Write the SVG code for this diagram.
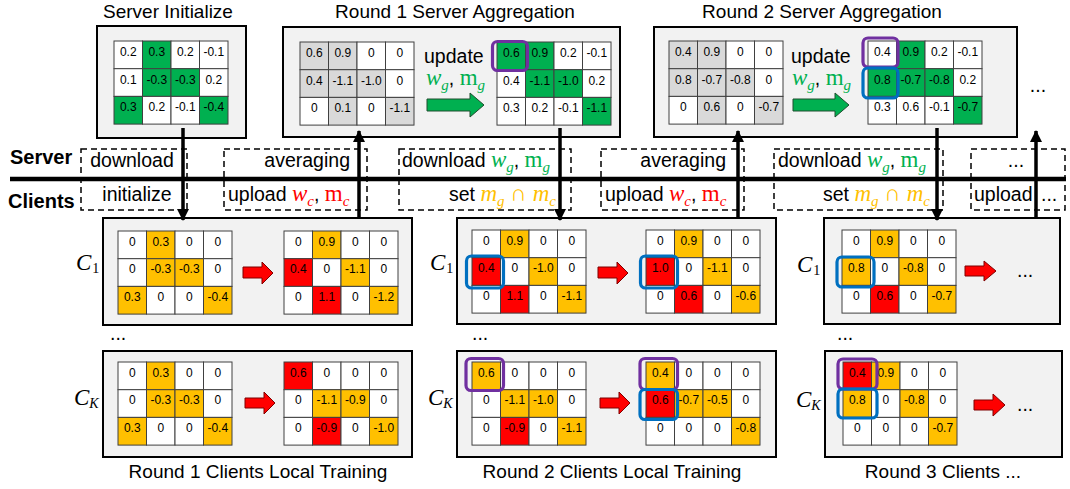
<svg xmlns="http://www.w3.org/2000/svg" width="1070" height="489" viewBox="0 0 1070 489">
<style>
.panel{fill:#F2F2F2;stroke:#000;stroke-width:2}
.c{stroke:#404040;stroke-width:1}
.W{fill:#fff}.G{fill:#00B050}.Gy{fill:#D9D9D9}.Y{fill:#FFC000}.R{fill:#FF0000}
.n{font-family:"Liberation Sans",Arial,sans-serif;font-size:12px;text-anchor:middle;fill:#000}
.t{font-family:"Liberation Sans",Arial,sans-serif;font-size:19px;fill:#000}
.b{font-family:"Liberation Sans",Arial,sans-serif;font-size:19.5px;fill:#000}
.lab{font-family:"Liberation Sans",Arial,sans-serif;font-size:20px;font-weight:bold;fill:#000}
.mi{font-family:"Liberation Serif","DejaVu Serif",serif;font-style:italic;font-size:23px}
.mr{font-family:"Liberation Serif","DejaVu Serif",serif;font-size:23px}
.sb{font-family:"Liberation Serif","DejaVu Serif",serif;font-style:italic;font-size:15px}
.su{font-family:"Liberation Serif","DejaVu Serif",serif;font-size:14px}
.sk{font-family:"Liberation Serif","DejaVu Serif",serif;font-style:italic;font-size:14px}
.cm{font-family:"Liberation Sans",Arial,sans-serif;font-size:19.5px;font-style:normal}
.green{fill:#00B050}.red{fill:#FF0000}.org{fill:#FFC000}
.dash{fill:none;stroke:#000;stroke-width:1.5;stroke-dasharray:6,4}
.conn{stroke:#000;stroke-width:3.5;fill:none}
.pur{fill:none;stroke:#7030A0;stroke-width:3.2}
.blu{fill:none;stroke:#0070C0;stroke-width:3.2}
.ga{fill:#00B050;stroke:#1F4E2E;stroke-width:1}
.ra{fill:#FF0000;stroke:#7F0000;stroke-width:1}
.mid{text-anchor:middle}.end{text-anchor:end}
</style>
<defs>
<marker id="ah" markerUnits="userSpaceOnUse" markerWidth="12" markerHeight="12" refX="11" refY="6" orient="auto">
<path d="M0,0 L12,6 L0,12 Z" fill="#000"/>
</marker>
</defs>

<!-- Titles -->
<text class="t mid" x="168" y="18">Server Initialize</text>
<text class="t mid" x="455" y="18">Round 1 Server Aggregation</text>
<text class="t mid" x="822" y="18">Round 2 Server Aggregation</text>
<text class="t mid" x="258" y="478">Round 1 Clients Local Training</text>
<text class="t mid" x="612" y="478">Round 2 Clients Local Training</text>
<text class="t mid" x="943" y="478">Round 3 Clients ...</text>

<!-- Server init -->
<g id="server-init">
<rect class="panel" x="97" y="26" width="149" height="112"/>
<g transform="translate(114,41)">
<rect class="c W" x="0" y="0" width="28.5" height="27.7"/><rect class="c G" x="28.5" y="0" width="28.5" height="27.7"/><rect class="c W" x="57" y="0" width="28.5" height="27.7"/><rect class="c W" x="85.5" y="0" width="28.5" height="27.7"/>
<rect class="c W" x="0" y="27.7" width="28.5" height="27.7"/><rect class="c G" x="28.5" y="27.7" width="28.5" height="27.7"/><rect class="c G" x="57" y="27.7" width="28.5" height="27.7"/><rect class="c W" x="85.5" y="27.7" width="28.5" height="27.7"/>
<rect class="c G" x="0" y="55.4" width="28.5" height="27.7"/><rect class="c W" x="28.5" y="55.4" width="28.5" height="27.7"/><rect class="c W" x="57" y="55.4" width="28.5" height="27.7"/><rect class="c G" x="85.5" y="55.4" width="28.5" height="27.7"/>
<text class="n" x="14.25" y="15">0.2</text><text class="n" x="42.75" y="15">0.3</text><text class="n" x="71.25" y="15">0.2</text><text class="n" x="99.75" y="15">-0.1</text>
<text class="n" x="14.25" y="42.7">0.1</text><text class="n" x="42.75" y="42.7">-0.3</text><text class="n" x="71.25" y="42.7">-0.3</text><text class="n" x="99.75" y="42.7">0.2</text>
<text class="n" x="14.25" y="70.4">0.3</text><text class="n" x="42.75" y="70.4">0.2</text><text class="n" x="71.25" y="70.4">-0.1</text><text class="n" x="99.75" y="70.4">-0.4</text>
</g>
</g>

<!-- Round 1 server aggregation -->
<g id="r1-server">
<rect class="panel" x="283" y="27" width="337" height="110"/>
<g transform="translate(300,42)">
<rect class="c Gy" x="0" y="0" width="28.5" height="27.7"/><rect class="c Gy" x="28.5" y="0" width="28.5" height="27.7"/><rect class="c W" x="57" y="0" width="28.5" height="27.7"/><rect class="c W" x="85.5" y="0" width="28.5" height="27.7"/>
<rect class="c Gy" x="0" y="27.7" width="28.5" height="27.7"/><rect class="c Gy" x="28.5" y="27.7" width="28.5" height="27.7"/><rect class="c Gy" x="57" y="27.7" width="28.5" height="27.7"/><rect class="c W" x="85.5" y="27.7" width="28.5" height="27.7"/>
<rect class="c W" x="0" y="55.4" width="28.5" height="27.7"/><rect class="c Gy" x="28.5" y="55.4" width="28.5" height="27.7"/><rect class="c W" x="57" y="55.4" width="28.5" height="27.7"/><rect class="c Gy" x="85.5" y="55.4" width="28.5" height="27.7"/>
<text class="n" x="14.25" y="15">0.6</text><text class="n" x="42.75" y="15">0.9</text><text class="n" x="71.25" y="15">0</text><text class="n" x="99.75" y="15">0</text>
<text class="n" x="14.25" y="42.7">0.4</text><text class="n" x="42.75" y="42.7">-1.1</text><text class="n" x="71.25" y="42.7">-1.0</text><text class="n" x="99.75" y="42.7">0</text>
<text class="n" x="14.25" y="70.4">0</text><text class="n" x="42.75" y="70.4">0.1</text><text class="n" x="71.25" y="70.4">0</text><text class="n" x="99.75" y="70.4">-1.1</text>
</g>
<text class="b" x="424" y="63" font-size="20">update</text>
<text x="426" y="85"><tspan class="mi green">w</tspan><tspan class="sb green" dy="5">g</tspan><tspan class="cm" dy="-5">, </tspan><tspan class="mr green">m</tspan><tspan class="sb green" dy="5">g</tspan></text>
<path class="ga" d="M427,99 H470 V93 L484,105 L470,117 V111 H427 Z"/>
<g transform="translate(497,42)">
<rect class="c G" x="0" y="0" width="28.5" height="27.7"/><rect class="c G" x="28.5" y="0" width="28.5" height="27.7"/><rect class="c W" x="57" y="0" width="28.5" height="27.7"/><rect class="c W" x="85.5" y="0" width="28.5" height="27.7"/>
<rect class="c W" x="0" y="27.7" width="28.5" height="27.7"/><rect class="c G" x="28.5" y="27.7" width="28.5" height="27.7"/><rect class="c G" x="57" y="27.7" width="28.5" height="27.7"/><rect class="c W" x="85.5" y="27.7" width="28.5" height="27.7"/>
<rect class="c W" x="0" y="55.4" width="28.5" height="27.7"/><rect class="c W" x="28.5" y="55.4" width="28.5" height="27.7"/><rect class="c W" x="57" y="55.4" width="28.5" height="27.7"/><rect class="c G" x="85.5" y="55.4" width="28.5" height="27.7"/>
<text class="n" x="14.25" y="15">0.6</text><text class="n" x="42.75" y="15">0.9</text><text class="n" x="71.25" y="15">0.2</text><text class="n" x="99.75" y="15">-0.1</text>
<text class="n" x="14.25" y="42.7">0.4</text><text class="n" x="42.75" y="42.7">-1.1</text><text class="n" x="71.25" y="42.7">-1.0</text><text class="n" x="99.75" y="42.7">0.2</text>
<text class="n" x="14.25" y="70.4">0.3</text><text class="n" x="42.75" y="70.4">0.2</text><text class="n" x="71.25" y="70.4">-0.1</text><text class="n" x="99.75" y="70.4">-1.1</text>
<rect class="pur" x="-4.5" y="-0.5" width="35" height="29" rx="5"/>
</g>
</g>

<!-- Round 2 server aggregation -->
<g id="r2-server">
<rect class="panel" x="654" y="27" width="363" height="110"/>
<g transform="translate(669,41)">
<rect class="c Gy" x="0" y="0" width="28.5" height="27.7"/><rect class="c Gy" x="28.5" y="0" width="28.5" height="27.7"/><rect class="c W" x="57" y="0" width="28.5" height="27.7"/><rect class="c W" x="85.5" y="0" width="28.5" height="27.7"/>
<rect class="c Gy" x="0" y="27.7" width="28.5" height="27.7"/><rect class="c Gy" x="28.5" y="27.7" width="28.5" height="27.7"/><rect class="c Gy" x="57" y="27.7" width="28.5" height="27.7"/><rect class="c W" x="85.5" y="27.7" width="28.5" height="27.7"/>
<rect class="c W" x="0" y="55.4" width="28.5" height="27.7"/><rect class="c Gy" x="28.5" y="55.4" width="28.5" height="27.7"/><rect class="c W" x="57" y="55.4" width="28.5" height="27.7"/><rect class="c Gy" x="85.5" y="55.4" width="28.5" height="27.7"/>
<text class="n" x="14.25" y="15">0.4</text><text class="n" x="42.75" y="15">0.9</text><text class="n" x="71.25" y="15">0</text><text class="n" x="99.75" y="15">0</text>
<text class="n" x="14.25" y="42.7">0.8</text><text class="n" x="42.75" y="42.7">-0.7</text><text class="n" x="71.25" y="42.7">-0.8</text><text class="n" x="99.75" y="42.7">0</text>
<text class="n" x="14.25" y="70.4">0</text><text class="n" x="42.75" y="70.4">0.6</text><text class="n" x="71.25" y="70.4">0</text><text class="n" x="99.75" y="70.4">-0.7</text>
</g>
<text class="b" x="791" y="63" font-size="20">update</text>
<text x="792" y="85"><tspan class="mi green">w</tspan><tspan class="sb green" dy="5">g</tspan><tspan class="cm" dy="-5">, </tspan><tspan class="mr green">m</tspan><tspan class="sb green" dy="5">g</tspan></text>
<path class="ga" d="M793,99 H835 V93 L849,105 L835,117 V111 H793 Z"/>
<g transform="translate(868,41)">
<rect class="c W" x="0" y="0" width="28.5" height="27.7"/><rect class="c G" x="28.5" y="0" width="28.5" height="27.7"/><rect class="c W" x="57" y="0" width="28.5" height="27.7"/><rect class="c W" x="85.5" y="0" width="28.5" height="27.7"/>
<rect class="c G" x="0" y="27.7" width="28.5" height="27.7"/><rect class="c G" x="28.5" y="27.7" width="28.5" height="27.7"/><rect class="c G" x="57" y="27.7" width="28.5" height="27.7"/><rect class="c W" x="85.5" y="27.7" width="28.5" height="27.7"/>
<rect class="c W" x="0" y="55.4" width="28.5" height="27.7"/><rect class="c W" x="28.5" y="55.4" width="28.5" height="27.7"/><rect class="c W" x="57" y="55.4" width="28.5" height="27.7"/><rect class="c G" x="85.5" y="55.4" width="28.5" height="27.7"/>
<text class="n" x="14.25" y="15">0.4</text><text class="n" x="42.75" y="15">0.9</text><text class="n" x="71.25" y="15">0.2</text><text class="n" x="99.75" y="15">-0.1</text>
<text class="n" x="14.25" y="42.7">0.8</text><text class="n" x="42.75" y="42.7">-0.7</text><text class="n" x="71.25" y="42.7">-0.8</text><text class="n" x="99.75" y="42.7">0.2</text>
<text class="n" x="14.25" y="70.4">0.3</text><text class="n" x="42.75" y="70.4">0.6</text><text class="n" x="71.25" y="70.4">-0.1</text><text class="n" x="99.75" y="70.4">-0.7</text>
<rect class="pur" x="-5" y="-3" width="35" height="29" rx="5"/>
<rect class="blu" x="-5" y="27" width="35" height="30" rx="5"/>
</g>
<text class="b" x="1038" y="92" text-anchor="middle">...</text>
</g>

<!-- Server / Clients bar -->
<g id="bar">
<text class="lab" x="10" y="164">Server</text>
<text class="lab" x="8" y="208">Clients</text>
<line x1="10" y1="179" x2="1066" y2="179" stroke="#000" stroke-width="4.5"/>
<rect class="dash" x="81" y="149" width="106" height="61"/>
<rect class="dash" x="224" y="149" width="143" height="61"/>
<rect class="dash" x="399" y="149" width="172" height="61"/>
<rect class="dash" x="601" y="149" width="143" height="61"/>
<rect class="dash" x="774" y="149" width="169" height="61"/>
<rect class="dash" x="971" y="149" width="94" height="61"/>
<text class="b mid" x="132" y="167">download</text>
<text class="b end" x="350" y="167">averaging</text>
<text class="b" x="402" y="167">download <tspan class="mi green">w</tspan><tspan class="sb green" dy="5">g</tspan><tspan class="cm" dy="-5">, </tspan><tspan class="mr green">m</tspan><tspan class="sb green" dy="5">g</tspan></text>
<text class="b end" x="726" y="167">averaging</text>
<text class="b" x="778" y="167">download <tspan class="mi green">w</tspan><tspan class="sb green" dy="5">g</tspan><tspan class="cm" dy="-5">, </tspan><tspan class="mr green">m</tspan><tspan class="sb green" dy="5">g</tspan></text>
<text class="b mid" x="1016" y="167">...</text>
<text class="b mid" x="137" y="201">initialize</text>
<text class="b" x="228" y="201">upload <tspan class="mi red">w</tspan><tspan class="sb red" dy="5">c</tspan><tspan class="cm" dy="-5">, </tspan><tspan class="mr red">m</tspan><tspan class="sb red" dy="5">c</tspan></text>
<text class="b end" x="556" y="201">set <tspan class="mi org">m</tspan><tspan class="sb org" dy="5">g</tspan><tspan class="mr org" dy="-5"> ∩ </tspan><tspan class="mi org">m</tspan><tspan class="sb org" dy="5">c</tspan></text>
<text class="b" x="605" y="201">upload <tspan class="mi red">w</tspan><tspan class="sb red" dy="5">c</tspan><tspan class="cm" dy="-5">, </tspan><tspan class="mr red">m</tspan><tspan class="sb red" dy="5">c</tspan></text>
<text class="b end" x="930" y="201">set <tspan class="mi org">m</tspan><tspan class="sb org" dy="5">g</tspan><tspan class="mr org" dy="-5"> ∩ </tspan><tspan class="mi org">m</tspan><tspan class="sb org" dy="5">c</tspan></text>
<text class="b" x="974" y="201">upload</text>
<text class="b" x="1041" y="201">...</text>
</g>

<!-- Client labels -->
<g id="client-labels">
<text x="76" y="270"><tspan class="mi" font-size="22">C</tspan><tspan class="su" dx="1" dy="3">1</tspan></text>
<text x="74" y="405"><tspan class="mi" font-size="22">C</tspan><tspan class="sk" dy="3">K</tspan></text>
<text x="430" y="270"><tspan class="mi" font-size="22">C</tspan><tspan class="su" dx="1" dy="3">1</tspan></text>
<text x="428" y="405"><tspan class="mi" font-size="22">C</tspan><tspan class="sk" dy="3">K</tspan></text>
<text x="797" y="272"><tspan class="mi" font-size="22">C</tspan><tspan class="su" dx="1" dy="3">1</tspan></text>
<text x="796" y="407"><tspan class="mi" font-size="22">C</tspan><tspan class="sk" dy="3">K</tspan></text>
<text class="b" x="110" y="340" font-size="16">...</text>
<text class="b" x="472" y="340" font-size="16">...</text>
<text class="b" x="837" y="340" font-size="16">...</text>
</g>

<!-- Round 1 C1 -->
<g id="r1-c1">
<rect class="panel" x="103" y="218" width="309" height="107"/>
<g transform="translate(118,231)">
<rect class="c W" x="0" y="0" width="28.5" height="27.7"/><rect class="c Y" x="28.5" y="0" width="28.5" height="27.7"/><rect class="c W" x="57" y="0" width="28.5" height="27.7"/><rect class="c W" x="85.5" y="0" width="28.5" height="27.7"/>
<rect class="c W" x="0" y="27.7" width="28.5" height="27.7"/><rect class="c Y" x="28.5" y="27.7" width="28.5" height="27.7"/><rect class="c Y" x="57" y="27.7" width="28.5" height="27.7"/><rect class="c W" x="85.5" y="27.7" width="28.5" height="27.7"/>
<rect class="c Y" x="0" y="55.4" width="28.5" height="27.7"/><rect class="c W" x="28.5" y="55.4" width="28.5" height="27.7"/><rect class="c W" x="57" y="55.4" width="28.5" height="27.7"/><rect class="c Y" x="85.5" y="55.4" width="28.5" height="27.7"/>
<text class="n" x="14.25" y="14.5">0</text><text class="n" x="42.75" y="14.5">0.3</text><text class="n" x="71.25" y="14.5">0</text><text class="n" x="99.75" y="14.5">0</text>
<text class="n" x="14.25" y="42.2">0</text><text class="n" x="42.75" y="42.2">-0.3</text><text class="n" x="71.25" y="42.2">-0.3</text><text class="n" x="99.75" y="42.2">0</text>
<text class="n" x="14.25" y="69.9">0.3</text><text class="n" x="42.75" y="69.9">0</text><text class="n" x="71.25" y="69.9">0</text><text class="n" x="99.75" y="69.9">-0.4</text>
</g>
<path class="ra" d="M243,267 H262 V262 L273,273 L262,284 V278 H243 Z"/>
<g transform="translate(284,231)">
<rect class="c W" x="0" y="0" width="28.5" height="27.7"/><rect class="c Y" x="28.5" y="0" width="28.5" height="27.7"/><rect class="c W" x="57" y="0" width="28.5" height="27.7"/><rect class="c W" x="85.5" y="0" width="28.5" height="27.7"/>
<rect class="c R" x="0" y="27.7" width="28.5" height="27.7"/><rect class="c W" x="28.5" y="27.7" width="28.5" height="27.7"/><rect class="c Y" x="57" y="27.7" width="28.5" height="27.7"/><rect class="c W" x="85.5" y="27.7" width="28.5" height="27.7"/>
<rect class="c W" x="0" y="55.4" width="28.5" height="27.7"/><rect class="c R" x="28.5" y="55.4" width="28.5" height="27.7"/><rect class="c W" x="57" y="55.4" width="28.5" height="27.7"/><rect class="c Y" x="85.5" y="55.4" width="28.5" height="27.7"/>
<text class="n" x="14.25" y="14.5">0</text><text class="n" x="42.75" y="14.5">0.9</text><text class="n" x="71.25" y="14.5">0</text><text class="n" x="99.75" y="14.5">0</text>
<text class="n" x="14.25" y="42.2">0.4</text><text class="n" x="42.75" y="42.2">0</text><text class="n" x="71.25" y="42.2">-1.1</text><text class="n" x="99.75" y="42.2">0</text>
<text class="n" x="14.25" y="69.9">0</text><text class="n" x="42.75" y="69.9">1.1</text><text class="n" x="71.25" y="69.9">0</text><text class="n" x="99.75" y="69.9">-1.2</text>
</g>
</g>

<!-- Round 1 CK -->
<g id="r1-ck">
<rect class="panel" x="103" y="351" width="309" height="106"/>
<g transform="translate(118,362)">
<rect class="c W" x="0" y="0" width="28.5" height="27.7"/><rect class="c Y" x="28.5" y="0" width="28.5" height="27.7"/><rect class="c W" x="57" y="0" width="28.5" height="27.7"/><rect class="c W" x="85.5" y="0" width="28.5" height="27.7"/>
<rect class="c W" x="0" y="27.7" width="28.5" height="27.7"/><rect class="c Y" x="28.5" y="27.7" width="28.5" height="27.7"/><rect class="c Y" x="57" y="27.7" width="28.5" height="27.7"/><rect class="c W" x="85.5" y="27.7" width="28.5" height="27.7"/>
<rect class="c Y" x="0" y="55.4" width="28.5" height="27.7"/><rect class="c W" x="28.5" y="55.4" width="28.5" height="27.7"/><rect class="c W" x="57" y="55.4" width="28.5" height="27.7"/><rect class="c Y" x="85.5" y="55.4" width="28.5" height="27.7"/>
<text class="n" x="14.25" y="14.5">0</text><text class="n" x="42.75" y="14.5">0.3</text><text class="n" x="71.25" y="14.5">0</text><text class="n" x="99.75" y="14.5">0</text>
<text class="n" x="14.25" y="42.2">0</text><text class="n" x="42.75" y="42.2">-0.3</text><text class="n" x="71.25" y="42.2">-0.3</text><text class="n" x="99.75" y="42.2">0</text>
<text class="n" x="14.25" y="69.9">0.3</text><text class="n" x="42.75" y="69.9">0</text><text class="n" x="71.25" y="69.9">0</text><text class="n" x="99.75" y="69.9">-0.4</text>
</g>
<path class="ra" d="M245,398 H264 V392 L275,403 L264,414 V408 H245 Z"/>
<g transform="translate(284,362)">
<rect class="c R" x="0" y="0" width="28.5" height="27.7"/><rect class="c W" x="28.5" y="0" width="28.5" height="27.7"/><rect class="c W" x="57" y="0" width="28.5" height="27.7"/><rect class="c W" x="85.5" y="0" width="28.5" height="27.7"/>
<rect class="c W" x="0" y="27.7" width="28.5" height="27.7"/><rect class="c Y" x="28.5" y="27.7" width="28.5" height="27.7"/><rect class="c Y" x="57" y="27.7" width="28.5" height="27.7"/><rect class="c W" x="85.5" y="27.7" width="28.5" height="27.7"/>
<rect class="c W" x="0" y="55.4" width="28.5" height="27.7"/><rect class="c R" x="28.5" y="55.4" width="28.5" height="27.7"/><rect class="c W" x="57" y="55.4" width="28.5" height="27.7"/><rect class="c Y" x="85.5" y="55.4" width="28.5" height="27.7"/>
<text class="n" x="14.25" y="14.5">0.6</text><text class="n" x="42.75" y="14.5">0</text><text class="n" x="71.25" y="14.5">0</text><text class="n" x="99.75" y="14.5">0</text>
<text class="n" x="14.25" y="42.2">0</text><text class="n" x="42.75" y="42.2">-1.1</text><text class="n" x="71.25" y="42.2">-0.9</text><text class="n" x="99.75" y="42.2">0</text>
<text class="n" x="14.25" y="69.9">0</text><text class="n" x="42.75" y="69.9">-0.9</text><text class="n" x="71.25" y="69.9">0</text><text class="n" x="99.75" y="69.9">-1.0</text>
</g>
</g>

<!-- Round 2 C1 -->
<g id="r2-c1">
<rect class="panel" x="457" y="218" width="319" height="106"/>
<g transform="translate(472,230)">
<rect class="c W" x="0" y="0" width="28.5" height="27.7"/><rect class="c Y" x="28.5" y="0" width="28.5" height="27.7"/><rect class="c W" x="57" y="0" width="28.5" height="27.7"/><rect class="c W" x="85.5" y="0" width="28.5" height="27.7"/>
<rect class="c R" x="0" y="27.7" width="28.5" height="27.7"/><rect class="c W" x="28.5" y="27.7" width="28.5" height="27.7"/><rect class="c Y" x="57" y="27.7" width="28.5" height="27.7"/><rect class="c W" x="85.5" y="27.7" width="28.5" height="27.7"/>
<rect class="c W" x="0" y="55.4" width="28.5" height="27.7"/><rect class="c R" x="28.5" y="55.4" width="28.5" height="27.7"/><rect class="c W" x="57" y="55.4" width="28.5" height="27.7"/><rect class="c Y" x="85.5" y="55.4" width="28.5" height="27.7"/>
<text class="n" x="14.25" y="14.5">0</text><text class="n" x="42.75" y="14.5">0.9</text><text class="n" x="71.25" y="14.5">0</text><text class="n" x="99.75" y="14.5">0</text>
<text class="n" x="14.25" y="42.2">0.4</text><text class="n" x="42.75" y="42.2">0</text><text class="n" x="71.25" y="42.2">-1.0</text><text class="n" x="99.75" y="42.2">0</text>
<text class="n" x="14.25" y="69.9">0</text><text class="n" x="42.75" y="69.9">1.1</text><text class="n" x="71.25" y="69.9">0</text><text class="n" x="99.75" y="69.9">-1.1</text>
<rect class="blu" x="-5.5" y="26" width="37" height="32" rx="5"/>
</g>
<path class="ra" d="M598,267 H617 V262 L628,273 L617,284 V278 H598 Z"/>
<g transform="translate(646,230)">
<rect class="c W" x="0" y="0" width="28.5" height="27.7"/><rect class="c Y" x="28.5" y="0" width="28.5" height="27.7"/><rect class="c W" x="57" y="0" width="28.5" height="27.7"/><rect class="c W" x="85.5" y="0" width="28.5" height="27.7"/>
<rect class="c R" x="0" y="27.7" width="28.5" height="27.7"/><rect class="c W" x="28.5" y="27.7" width="28.5" height="27.7"/><rect class="c Y" x="57" y="27.7" width="28.5" height="27.7"/><rect class="c W" x="85.5" y="27.7" width="28.5" height="27.7"/>
<rect class="c W" x="0" y="55.4" width="28.5" height="27.7"/><rect class="c R" x="28.5" y="55.4" width="28.5" height="27.7"/><rect class="c W" x="57" y="55.4" width="28.5" height="27.7"/><rect class="c Y" x="85.5" y="55.4" width="28.5" height="27.7"/>
<text class="n" x="14.25" y="14.5">0</text><text class="n" x="42.75" y="14.5">0.9</text><text class="n" x="71.25" y="14.5">0</text><text class="n" x="99.75" y="14.5">0</text>
<text class="n" x="14.25" y="42.2">1.0</text><text class="n" x="42.75" y="42.2">0</text><text class="n" x="71.25" y="42.2">-1.1</text><text class="n" x="99.75" y="42.2">0</text>
<text class="n" x="14.25" y="69.9">0</text><text class="n" x="42.75" y="69.9">0.6</text><text class="n" x="71.25" y="69.9">0</text><text class="n" x="99.75" y="69.9">-0.6</text>
<rect class="blu" x="-5.5" y="26" width="37" height="32" rx="5"/>
</g>
</g>

<!-- Round 2 CK -->
<g id="r2-ck">
<rect class="panel" x="457" y="351" width="319" height="106"/>
<g transform="translate(472,362)">
<rect class="c Y" x="0" y="0" width="28.5" height="27.7"/><rect class="c W" x="28.5" y="0" width="28.5" height="27.7"/><rect class="c W" x="57" y="0" width="28.5" height="27.7"/><rect class="c W" x="85.5" y="0" width="28.5" height="27.7"/>
<rect class="c W" x="0" y="27.7" width="28.5" height="27.7"/><rect class="c Y" x="28.5" y="27.7" width="28.5" height="27.7"/><rect class="c Y" x="57" y="27.7" width="28.5" height="27.7"/><rect class="c W" x="85.5" y="27.7" width="28.5" height="27.7"/>
<rect class="c W" x="0" y="55.4" width="28.5" height="27.7"/><rect class="c R" x="28.5" y="55.4" width="28.5" height="27.7"/><rect class="c W" x="57" y="55.4" width="28.5" height="27.7"/><rect class="c Y" x="85.5" y="55.4" width="28.5" height="27.7"/>
<text class="n" x="14.25" y="14.5">0.6</text><text class="n" x="42.75" y="14.5">0</text><text class="n" x="71.25" y="14.5">0</text><text class="n" x="99.75" y="14.5">0</text>
<text class="n" x="14.25" y="42.2">0</text><text class="n" x="42.75" y="42.2">-1.1</text><text class="n" x="71.25" y="42.2">-1.0</text><text class="n" x="99.75" y="42.2">0</text>
<text class="n" x="14.25" y="69.9">0</text><text class="n" x="42.75" y="69.9">-0.9</text><text class="n" x="71.25" y="69.9">0</text><text class="n" x="99.75" y="69.9">-1.1</text>
<rect class="pur" x="-6" y="-3.5" width="37.5" height="32" rx="5"/>
</g>
<path class="ra" d="M600,398 H619 V392 L630,403 L619,414 V408 H600 Z"/>
<g transform="translate(646,362)">
<rect class="c Y" x="0" y="0" width="28.5" height="27.7"/><rect class="c W" x="28.5" y="0" width="28.5" height="27.7"/><rect class="c W" x="57" y="0" width="28.5" height="27.7"/><rect class="c W" x="85.5" y="0" width="28.5" height="27.7"/>
<rect class="c R" x="0" y="27.7" width="28.5" height="27.7"/><rect class="c Y" x="28.5" y="27.7" width="28.5" height="27.7"/><rect class="c Y" x="57" y="27.7" width="28.5" height="27.7"/><rect class="c W" x="85.5" y="27.7" width="28.5" height="27.7"/>
<rect class="c W" x="0" y="55.4" width="28.5" height="27.7"/><rect class="c W" x="28.5" y="55.4" width="28.5" height="27.7"/><rect class="c W" x="57" y="55.4" width="28.5" height="27.7"/><rect class="c Y" x="85.5" y="55.4" width="28.5" height="27.7"/>
<text class="n" x="14.25" y="14.5">0.4</text><text class="n" x="42.75" y="14.5">0</text><text class="n" x="71.25" y="14.5">0</text><text class="n" x="99.75" y="14.5">0</text>
<text class="n" x="14.25" y="42.2">0.6</text><text class="n" x="42.75" y="42.2">-0.7</text><text class="n" x="71.25" y="42.2">-0.5</text><text class="n" x="99.75" y="42.2">0</text>
<text class="n" x="14.25" y="69.9">0</text><text class="n" x="42.75" y="69.9">0</text><text class="n" x="71.25" y="69.9">0</text><text class="n" x="99.75" y="69.9">-0.8</text>
<rect class="pur" x="-6" y="-3.5" width="37.5" height="31" rx="5"/>
<rect class="blu" x="-6" y="27.5" width="37.5" height="30" rx="5"/>
</g>
</g>

<!-- Round 3 C1 -->
<g id="r3-c1">
<rect class="panel" x="824" y="218" width="236" height="106"/>
<g transform="translate(842,230)">
<rect class="c W" x="0" y="0" width="28.5" height="27.7"/><rect class="c Y" x="28.5" y="0" width="28.5" height="27.7"/><rect class="c W" x="57" y="0" width="28.5" height="27.7"/><rect class="c W" x="85.5" y="0" width="28.5" height="27.7"/>
<rect class="c Y" x="0" y="27.7" width="28.5" height="27.7"/><rect class="c W" x="28.5" y="27.7" width="28.5" height="27.7"/><rect class="c Y" x="57" y="27.7" width="28.5" height="27.7"/><rect class="c W" x="85.5" y="27.7" width="28.5" height="27.7"/>
<rect class="c W" x="0" y="55.4" width="28.5" height="27.7"/><rect class="c R" x="28.5" y="55.4" width="28.5" height="27.7"/><rect class="c W" x="57" y="55.4" width="28.5" height="27.7"/><rect class="c Y" x="85.5" y="55.4" width="28.5" height="27.7"/>
<text class="n" x="14.25" y="14.5">0</text><text class="n" x="42.75" y="14.5">0.9</text><text class="n" x="71.25" y="14.5">0</text><text class="n" x="99.75" y="14.5">0</text>
<text class="n" x="14.25" y="42.2">0.8</text><text class="n" x="42.75" y="42.2">0</text><text class="n" x="71.25" y="42.2">-0.8</text><text class="n" x="99.75" y="42.2">0</text>
<text class="n" x="14.25" y="69.9">0</text><text class="n" x="42.75" y="69.9">0.6</text><text class="n" x="71.25" y="69.9">0</text><text class="n" x="99.75" y="69.9">-0.7</text>
<rect class="blu" x="-5" y="27" width="37" height="30" rx="5"/>
</g>
<path class="ra" d="M965,266 H984 V261 L996,271 L984,281 V276 H965 Z"/>
<text class="b" x="1017" y="277">...</text>
</g>

<!-- Round 3 CK -->
<g id="r3-ck">
<rect class="panel" x="825" y="351" width="237" height="106"/>
<g transform="translate(843,362)">
<rect class="c R" x="0" y="0" width="28.5" height="27.7"/><rect class="c Y" x="28.5" y="0" width="28.5" height="27.7"/><rect class="c W" x="57" y="0" width="28.5" height="27.7"/><rect class="c W" x="85.5" y="0" width="28.5" height="27.7"/>
<rect class="c Y" x="0" y="27.7" width="28.5" height="27.7"/><rect class="c W" x="28.5" y="27.7" width="28.5" height="27.7"/><rect class="c Y" x="57" y="27.7" width="28.5" height="27.7"/><rect class="c W" x="85.5" y="27.7" width="28.5" height="27.7"/>
<rect class="c W" x="0" y="55.4" width="28.5" height="27.7"/><rect class="c W" x="28.5" y="55.4" width="28.5" height="27.7"/><rect class="c W" x="57" y="55.4" width="28.5" height="27.7"/><rect class="c Y" x="85.5" y="55.4" width="28.5" height="27.7"/>
<text class="n" x="14.25" y="14.5">0.4</text><text class="n" x="42.75" y="14.5">0.9</text><text class="n" x="71.25" y="14.5">0</text><text class="n" x="99.75" y="14.5">0</text>
<text class="n" x="14.25" y="42.2">0.8</text><text class="n" x="42.75" y="42.2">0</text><text class="n" x="71.25" y="42.2">-0.8</text><text class="n" x="99.75" y="42.2">0</text>
<text class="n" x="14.25" y="69.9">0</text><text class="n" x="42.75" y="69.9">0</text><text class="n" x="71.25" y="69.9">0</text><text class="n" x="99.75" y="69.9">-0.7</text>
<rect class="pur" x="-5" y="-3" width="39" height="30" rx="5"/>
<rect class="blu" x="-5" y="27" width="39" height="29" rx="5"/>
</g>
<path class="ra" d="M974,400 H993 V394 L1005,405 L993,416 V410 H974 Z"/>
<text class="b" x="1017" y="411">...</text>
</g>

<!-- Connectors -->
<g id="connectors">
<line class="conn" x1="183" y1="128" x2="183" y2="220" marker-end="url(#ah)"/>
<line class="conn" x1="359" y1="219" x2="359" y2="131" marker-end="url(#ah)"/>
<line class="conn" x1="560" y1="128" x2="560" y2="220" marker-end="url(#ah)"/>
<line class="conn" x1="738" y1="219" x2="738" y2="131" marker-end="url(#ah)"/>
<line class="conn" x1="937" y1="128" x2="937" y2="220" marker-end="url(#ah)"/>
<line class="conn" x1="1036" y1="219" x2="1036" y2="131" marker-end="url(#ah)"/>
</g>
</svg>
